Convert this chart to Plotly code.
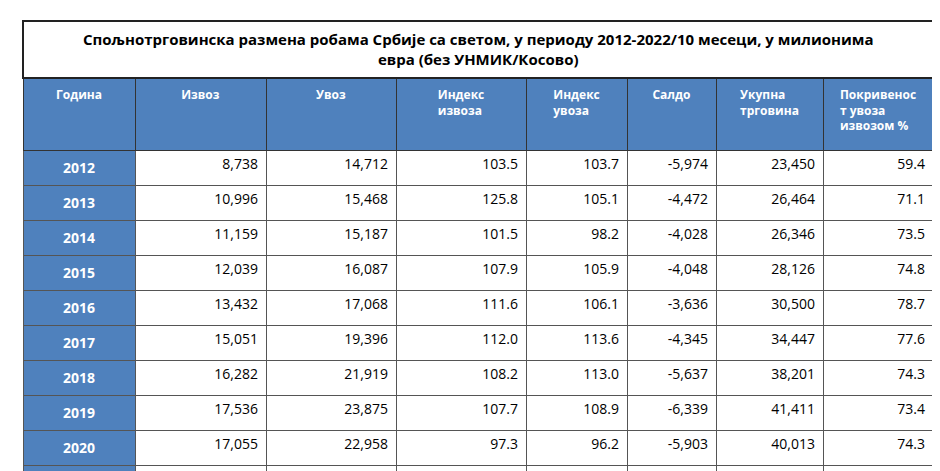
import plotly.graph_objects as go

headers = ["<br>Година", "<br>Извоз", "<br>Увоз", "<br>Индекс<br>извоза", "<br>Индекс<br>увоза", "<br>Салдо", "<br>Укупна<br>трговина", "Покривенос<br>т увоза<br>извозом %"]
years = ["2012","2013","2014","2015","2016","2017","2018","2019","2020","2021","2022/10м"]
izvoz = ["8,738","10,996","11,159","12,039","13,432","15,051","16,282","17,536","17,055","21,623","22,394"]
uvoz = ["14,712","15,468","15,187","16,087","17,068","19,396","21,919","23,875","22,958","28,603","31,300"]
idx_izv = ["103.5","125.8","101.5","107.9","111.6","112.0","108.2","107.7","97.3","126.8","127.2"]
idx_uv = ["103.7","105.1","98.2","105.9","106.1","113.6","113.0","108.9","96.2","124.6","136.2"]
saldo = ["-5,974","-4,472","-4,028","-4,048","-3,636","-4,345","-5,637","-6,339","-5,903","-6,980","-8,906"]
ukupno = ["23,450","26,464","26,346","28,126","30,500","34,447","38,201","41,411","40,013","50,226","53,694"]
pokr = ["59.4","71.1","73.5","74.8","78.7","77.6","74.3","73.4","74.3","75.6","71.5"]
title = "Спољнотрговинска размена робама Србије са светом, у периоду 2012-2022/10 месеци, у милионима<br>евра (без УНМИК/Косово)"

BOLD_FROM = 9
def fmt(col):
    return [f"<b>{v}</b>" if i >= BOLD_FROM else v for i, v in enumerate(col)]

cols = [[f"<b>{y}</b>" for y in years]] + [fmt(c) for c in [izvoz, uvoz, idx_izv, idx_uv, saldo, ukupno, pokr]]
widths = [112, 131, 130, 130, 101, 89, 107, 110]
blue = "#4f81bd"

fig = go.Figure(go.Table(
    domain=dict(x=[15/940, 925/940], y=[0, 1-70/471]),
    columnwidth=widths,
    header=dict(values=[f"<b>{h}</b>" for h in headers], fill_color=blue,
                font=dict(family="Open Sans", size=12, color="white"),
                align="center", height=72, line=dict(color="#333", width=1)),
    cells=dict(values=cols,
               fill_color=[[blue]*len(years)] + [["white"]*len(years)]*7,
               font=dict(family="Open Sans", size=14,
                         color=[["white"]*len(years)] + [["black"]*len(years)]*7),
               align=["center"] + ["right"]*7, height=28,
               line=dict(color="#555", width=1)),
))
fig.add_shape(type="rect", xref="paper", yref="paper", x0=15/940, x1=925/940,
              y0=1-70/471, y1=1-13/471, line=dict(color="#222", width=2))
fig.add_annotation(text=f"<b>{title}</b>", xref="paper", yref="paper", x=0.5, y=1-41/471,
                   showarrow=False, font=dict(family="Open Sans", size=15, color="black"),
                   align="center", yanchor="middle")
fig.update_layout(width=940, height=471, margin=dict(l=0, r=0, t=0, b=0),
                  paper_bgcolor="white")
fig.write_html("out.html")
